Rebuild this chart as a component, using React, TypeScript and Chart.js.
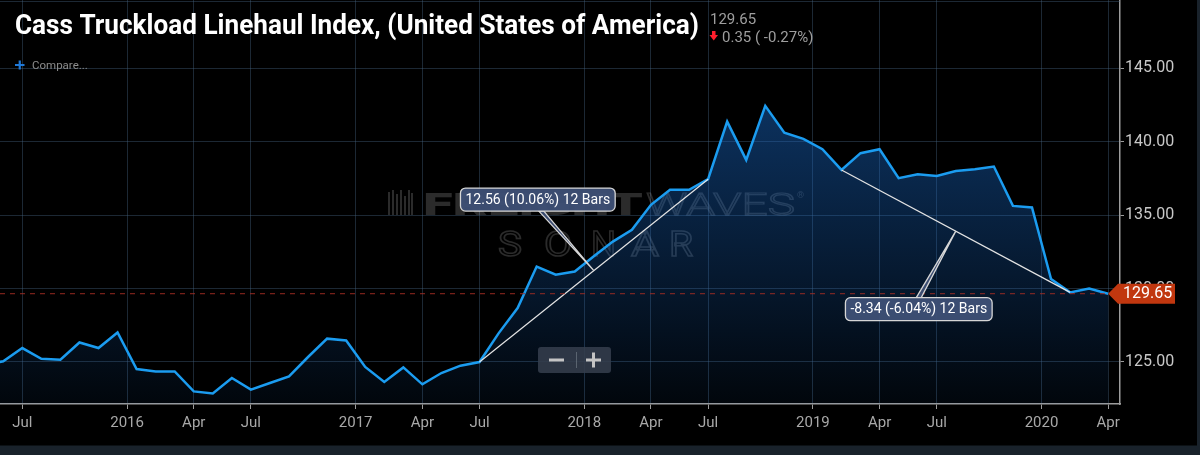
import { useEffect, useRef } from "react";
import { Chart, registerables } from "chart.js";

Chart.register(...registerables);

// monthly index values, May 2015 .. Apr 2020
const months = [
  "2015-05", "2015-06", "2015-07", "2015-08", "2015-09", "2015-10", "2015-11", "2015-12",
  "2016-01", "2016-02", "2016-03", "2016-04", "2016-05", "2016-06", "2016-07", "2016-08", "2016-09", "2016-10", "2016-11", "2016-12",
  "2017-01", "2017-02", "2017-03", "2017-04", "2017-05", "2017-06", "2017-07", "2017-08", "2017-09", "2017-10", "2017-11", "2017-12",
  "2018-01", "2018-02", "2018-03", "2018-04", "2018-05", "2018-06", "2018-07", "2018-08", "2018-09", "2018-10", "2018-11", "2018-12",
  "2019-01", "2019-02", "2019-03", "2019-04", "2019-05", "2019-06", "2019-07", "2019-08", "2019-09", "2019-10", "2019-11", "2019-12",
  "2020-01", "2020-02", "2020-03", "2020-04",
];

const indexValues = [
  124.8, 125.05, 125.95, 125.22, 125.16, 126.33, 125.95, 127.01,
  124.52, 124.36, 124.36, 123.0, 122.86, 123.91, 123.12, 123.57, 124.02, 125.34, 126.59, 126.47,
  124.66, 123.64, 124.63, 123.48, 124.25, 124.75, 125.0, 126.95, 128.67, 131.5, 130.94, 131.16,
  132.2, 133.2, 134.0, 135.7, 136.73, 136.73, 137.45, 141.37, 138.76, 142.44, 140.62, 140.19,
  139.49, 138.08, 139.22, 139.49, 137.52, 137.79, 137.67, 138.01, 138.13, 138.31, 135.63, 135.52,
  130.65, 129.74, 130.0, 129.65,
];

// x ticks (month index; year marks sit half a month before January)
const xTickIndex = [2, 7.5, 11, 14, 19.5, 23, 26, 31.5, 35, 38, 43.5, 47, 50, 55.5, 59];
const xTickLabels = ["Jul", "2016", "Apr", "Jul", "2017", "Apr", "Jul", "2018", "Apr", "Jul", "2019", "Apr", "Jul", "2020", "Apr"];
const yTickValues = [125, 130, 135, 140, 145];

// trend measurements (start index, end index) and their labels
const trendRanges = [[26, 38], [45, 57]];
const trendLabels = ["12.56 (10.06%) 12 Bars", "-8.34 (-6.04%) 12 Bars"];

const title = "Cass Truckload Linehaul Index, (United States of America)";

const GRID = "rgba(70,100,130,0.4)";
const AXIS = "#9c9c9c";
const FONT = "Roboto";

const boxOffsets = [
  { dx: -56, dy: -71, base: [1, 6] },
  { dx: -37, dy: 78, base: [-2.5, 2.5] },
];

// draw text stretched horizontally to a given width
function wideText(ctx: CanvasRenderingContext2D, text: string, x: number, y: number, width: number, stroke: boolean) {
  const w = ctx.measureText(text).width;
  ctx.save();
  ctx.translate(x, y);
  ctx.scale(width / w, 1);
  if (stroke) ctx.strokeText(text, 0, 0);
  else ctx.fillText(text, 0, 0);
  ctx.restore();
}

const overlay = {
  id: "overlay",
  beforeDraw(chart: any) {
    const { ctx } = chart;
    ctx.save();
    ctx.fillStyle = "#000";
    ctx.fillRect(0, 0, chart.width, chart.height);
    ctx.restore();
  },
  beforeDatasetsDraw(chart: any) {
    const { ctx, chartArea } = chart;
    ctx.save();
    ctx.strokeStyle = GRID;
    ctx.lineWidth = 1;
    ctx.beginPath();
    ctx.moveTo(chartArea.left, 1.5);
    ctx.lineTo(chartArea.right, 1.5);
    ctx.stroke();

    // watermark
    const wm = "rgba(255,255,255,0.17)";
    ctx.fillStyle = wm;
    ctx.strokeStyle = wm;
    const bars = [[388, 192, 23], [392, 190, 25], [396, 194, 21], [400, 190, 25], [404, 196, 19], [408, 190, 25], [411, 193, 22]];
    bars.forEach(([bx, by, bh]) => ctx.fillRect(bx, by, 2, bh));
    ctx.textBaseline = "alphabetic";
    ctx.font = `900 32px ${FONT}`;
    wideText(ctx, "FREIGHT", 423, 215, 220, false);
    ctx.lineWidth = 1.2;
    ctx.font = `300 32px ${FONT}`;
    wideText(ctx, "WAVES", 646, 215, 149, true);
    ctx.font = `9px ${FONT}`;
    ctx.fillText("®", 797, 198);
    ctx.font = `400 35px ${FONT}`;
    ctx.lineWidth = 1.5;
    const sx = [498, 544, 591, 631, 669];
    const sw = [24, 28, 25, 28, 24];
    "SONAR".split("").forEach((ch, i) => wideText(ctx, ch, sx[i], 256, sw[i], true));
    ctx.restore();
  },
  afterDatasetsDraw(chart: any) {
    const { ctx, chartArea } = chart;
    const xs = chart.scales.x;
    const ys = chart.scales.y;
    const li = indexValues.length - 1;
    const lx = xs.getPixelForValue(li);
    const ly = ys.getPixelForValue(indexValues[li]);
    ctx.save();
    ctx.strokeStyle = "rgba(165,45,35,0.9)";
    ctx.lineWidth = 1;
    ctx.setLineDash([5, 5]);
    ctx.beginPath();
    ctx.moveTo(chartArea.left, ly);
    ctx.lineTo(lx, ly);
    ctx.stroke();
    ctx.setLineDash([]);

    ctx.font = `14px ${FONT}`;
    ctx.textAlign = "center";
    ctx.textBaseline = "middle";
    trendRanges.forEach(([a, b], k) => {
      const mx = xs.getPixelForValue((a + b) / 2);
      const my = ys.getPixelForValue((indexValues[a] + indexValues[b]) / 2);
      const o = boxOffsets[k];
      const cx = mx + o.dx;
      const cy = my + o.dy;
      const w = ctx.measureText(trendLabels[k]).width + 10;
      const h = 23;
      const edge = o.dy < 0 ? cy + h / 2 : cy - h / 2;
      ctx.fillStyle = "rgba(62,80,118,0.95)";
      ctx.strokeStyle = "#d6d6d6";
      ctx.lineWidth = 1.3;
      ctx.beginPath();
      ctx.moveTo(cx + o.base[0], edge);
      ctx.lineTo(mx, my);
      ctx.lineTo(cx + o.base[1], edge);
      ctx.closePath();
      ctx.fill();
      ctx.stroke();
      ctx.beginPath();
      ctx.roundRect(cx - w / 2, cy - h / 2, w, h, 5);
      ctx.fill();
      ctx.stroke();
      ctx.fillStyle = "#ffffff";
      ctx.fillText(trendLabels[k], cx, cy + 0.5);
    });
    ctx.restore();
  },
  afterDraw(chart: any) {
    const { ctx, chartArea } = chart;
    const xs = chart.scales.x;
    const ys = chart.scales.y;
    const li = indexValues.length - 1;
    const last = indexValues[li];
    const prev = indexValues[li - 1];
    const lx = xs.getPixelForValue(li);
    const ly = ys.getPixelForValue(last);
    ctx.save();

    // clip the last x label at the axis edge, bottom strip
    ctx.fillStyle = "#000";
    ctx.fillRect(chartArea.right + 0.5, chartArea.bottom + 1, 80, 40);
    ctx.fillStyle = "#19222b";
    ctx.fillRect(0, 445.5, chart.width, chart.height - 445.5);
    ctx.fillRect(chart.width - 3, 0, 3, chart.height);

    // price tag
    ctx.fillStyle = "#c1370f";
    ctx.beginPath();
    ctx.moveTo(lx, ly);
    ctx.lineTo(chartArea.right - 2, ly - 10);
    ctx.lineTo(chartArea.right + 55, ly - 10);
    ctx.lineTo(chartArea.right + 55, ly + 10);
    ctx.lineTo(chartArea.right - 2, ly + 10);
    ctx.closePath();
    ctx.fill();
    ctx.fillStyle = "#ffffff";
    ctx.font = `16px ${FONT}`;
    ctx.textBaseline = "middle";
    ctx.fillText(last.toFixed(2), chartArea.right + 3, ly + 0.5);

    // header
    ctx.textBaseline = "alphabetic";
    ctx.fillStyle = "#ffffff";
    ctx.font = `bold 27px ${FONT}`;
    ctx.fillText(title, 15, 33.5, 684);
    const chg = last - prev;
    const pct = (chg / prev) * 100;
    ctx.fillStyle = "#9e9e9e";
    ctx.font = `15px ${FONT}`;
    ctx.fillText(last.toFixed(2), 710, 23.5);
    ctx.fillText(`${Math.abs(chg).toFixed(2)} ( ${pct.toFixed(2)}%)`, 722, 41.5);
    ctx.fillStyle = "#ff1e2d";
    ctx.fillRect(712, 31, 3.5, 4.5);
    ctx.beginPath();
    ctx.moveTo(709.5, 35);
    ctx.lineTo(718, 35);
    ctx.lineTo(713.75, 40.5);
    ctx.closePath();
    ctx.fill();

    ctx.strokeStyle = "#1f78d6";
    ctx.lineWidth = 2.2;
    ctx.beginPath();
    ctx.moveTo(15, 65);
    ctx.lineTo(24.5, 65);
    ctx.moveTo(19.75, 60.5);
    ctx.lineTo(19.75, 69.5);
    ctx.stroke();
    ctx.fillStyle = "#8c8c8c";
    ctx.font = `11.5px ${FONT}`;
    ctx.fillText("Compare...", 32, 69);

    // zoom control
    ctx.fillStyle = "rgba(52,62,76,0.88)";
    ctx.beginPath();
    ctx.roundRect(538, 347, 73, 26, 3);
    ctx.fill();
    ctx.fillStyle = "#c4c4c4";
    ctx.fillRect(549, 358.5, 15, 3);
    ctx.fillRect(586, 358.5, 15, 3);
    ctx.fillRect(592, 352.5, 3, 15);
    ctx.strokeStyle = "rgba(120,130,140,0.6)";
    ctx.lineWidth = 1;
    ctx.beginPath();
    ctx.moveTo(576.5, 352);
    ctx.lineTo(576.5, 368);
    ctx.stroke();
    ctx.restore();
  },
};

export default function App() {
  const chartRef = useRef<HTMLCanvasElement>(null);
  const chartInstance = useRef<Chart | null>(null);

  useEffect(() => {
    document.body.style.margin = "0";
    document.body.style.background = "#000";
    if (chartInstance.current) chartInstance.current.destroy();
    const ctx = chartRef.current!.getContext("2d")!;

    chartInstance.current = new Chart(ctx, {
      type: "line",
      data: {
        datasets: [
          {
            label: "Cass Truckload Linehaul Index",
            data: indexValues.map((v, i) => ({ x: i, y: v })),
            borderColor: "#1b9cf0",
            borderWidth: 2.5,
            pointRadius: 0,
            tension: 0,
            fill: "start",
            backgroundColor: (c: any) => {
              const { ctx: g, chartArea } = c.chart;
              if (!chartArea) return "transparent";
              const grad = g.createLinearGradient(0, chartArea.top + 100, 0, chartArea.bottom);
              grad.addColorStop(0, "rgba(25,105,200,0.48)");
              grad.addColorStop(1, "rgba(25,105,200,0.06)");
              return grad;
            },
          },
          ...trendRanges.map(([a, b]) => ({
            label: `${months[a]} – ${months[b]}`,
            data: [{ x: a, y: indexValues[a] }, { x: b, y: indexValues[b] }],
            borderColor: "#e4e4e4",
            borderWidth: 1.2,
            pointRadius: 0,
            fill: false,
            order: -1,
          })),
        ],
      },
      options: {
        responsive: false,
        animation: false,
        events: [],
        layout: { padding: 0 },
        plugins: { legend: { display: false }, tooltip: { enabled: false } },
        scales: {
          x: {
            type: "linear",
            min: 0.83,
            max: 59.62,
            afterBuildTicks: (s: any) => {
              s.ticks = xTickIndex.map((v) => ({ value: v }));
            },
            afterFit: (s: any) => {
              s.height = 51;
            },
            ticks: {
              autoSkip: false,
              maxRotation: 0,
              color: "#a8a8a8",
              padding: 5,
              font: { family: FONT, size: 15 },
              callback: (_v: any, i: number) => xTickLabels[i],
            },
            grid: { color: GRID, tickColor: AXIS, tickLength: 5 },
            border: { color: AXIS, width: 1.5 },
          },
          y: {
            position: "right",
            min: 122.14,
            max: 149.65,
            afterBuildTicks: (s: any) => {
              s.ticks = yTickValues.map((v) => ({ value: v }));
            },
            afterFit: (s: any) => {
              s.width = 80;
              s.paddingTop = 0;
              s.paddingBottom = 0;
            },
            ticks: {
              color: "#c8c8c8",
              padding: 1,
              font: { family: FONT, size: 16 },
              callback: (v: any) => Number(v).toFixed(2),
            },
            grid: { color: GRID, tickColor: AXIS, tickLength: 4 },
            border: { color: AXIS, width: 1.5 },
          },
        },
      },
      plugins: [overlay],
    } as any);

    return () => {
      if (chartInstance.current) {
        chartInstance.current.destroy();
        chartInstance.current = null;
      }
    };
  }, []);

  return (
    <div style={{ width: 1200, height: 455 }}>
      <canvas ref={chartRef} width={1200} height={455} style={{ display: "block" }} />
    </div>
  );
}
